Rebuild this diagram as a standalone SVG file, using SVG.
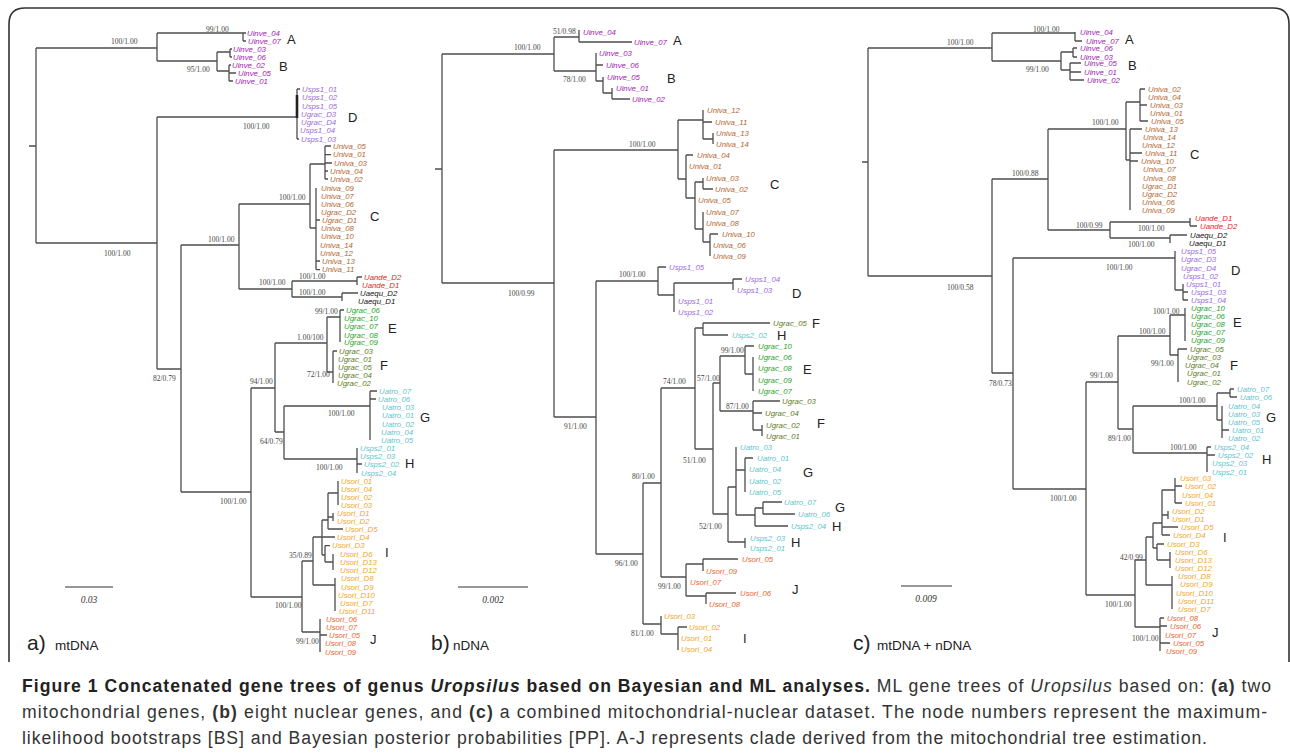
<svg xmlns="http://www.w3.org/2000/svg" width="1290" height="754" viewBox="0 0 1290 754">
<style>
.br{fill:none;stroke:#4d4d4d;stroke-width:1.3}
.fr{fill:none;stroke:#333;stroke-width:1.6}
.sb{fill:none;stroke:#333;stroke-width:1.2}
.t{font-family:"Liberation Sans",Arial,sans-serif;font-size:7.8px;font-style:italic;dominant-baseline:central}
.bl{font-family:"Liberation Serif","Times New Roman",serif;font-size:7.5px;fill:#444;dominant-baseline:central}
.cl{font-family:"Liberation Sans",Arial,sans-serif;font-size:13px;fill:#222;dominant-baseline:central}
.sc{font-family:"Liberation Serif","Times New Roman",serif;font-size:9.5px;font-style:italic;fill:#333;text-anchor:middle;dominant-baseline:central}
.pl{font-family:"Liberation Sans",Arial,sans-serif;font-size:21px;fill:#222}
.pn{font-family:"Liberation Sans",Arial,sans-serif;font-size:13.5px;fill:#222}
.cap{font-family:"Liberation Sans",Arial,sans-serif;font-size:17.6px;fill:#333}
.inv{fill:#a020b0}.sp1{fill:#9b6ae0}.niv{fill:#b3652f}.and{fill:#e42424}.aeq{fill:#111}
.ge{fill:#1fa31f}.gf{fill:#5b7b18}.atr{fill:#5ec4cd}.ori{fill:#f2a61e}.orj{fill:#e9652f}
</style>
<path class="fr" d="M9,662V24Q9,8 25,8H1273Q1289,8 1289,24V662"/>
<g id="connectors">
<path class="br" d="M29,146H36M36,48V243M36,48H157M157,33V61M157,33H243M243,33V41M243,33H246M243,41H246M157,61H217M217,52V71M217,52H230M230,49V57M230,49H232M230,57H232M217,71H229M229,65V81M229,65H231M229,73H236M229,81H233"/>
<path class="br" d="M36,243H157M157,117V369M157,117H297M297,89V139M297,89H300M297,139H299M157,369H181M181,245V492M181,245H239M239,204V289M239,204H310M310,164V228M310,164H325M325,146V179M325,146H331M325,154.6H331M325,163H332M325,171H328M325,179H328M310,228H316M316,188V269.6M316,261H320M316,269.6H320M316,220H320"/>
<path d="M297,95V118" stroke="#222" stroke-width="2.6"/>
<path class="br" d="M239,289H292M292,281V297M292,281H357M357,277V285M357,277H362M292,297H342M342,293V301M342,293H358"/>
<path class="br" d="M181,492H251M251,388V597M251,388H275M275,343V432M275,343H327M327,317V372M327,317H340M340,310V342M340,310H344M327,372H333M333,351V383M333,351H337M275,432H284M284,406V459M284,406H370M370,391V440M370,391H377M370,399H376M284,459H357M357,448V473M357,464H362"/>
<path class="br" d="M251,597H302M302,561V632M302,632H320M320,619V652M320,635H327M302,561H313M313,537V585M313,585H335M335,578V611M313,537H322M322,520V555M322,520H328M328,493V529M328,493H338M338,481V505M328,517H333M333,513V521M328,529H343M322,537H335M322,555H325M325,545.6V562M325,545.6H330M325,562H333M333,554V570"/>
<path class="br" d="M435,169H442M442,54V283M442,54H554M554,37V71M554,37H579M579,30V42M579,42H632M554,71H596M596,53V81M596,65H603M596,81H603M603,77V93M603,93H612M612,88V99M612,99H630"/>
<path class="br" d="M442,283H554M554,150V417M554,150H678M678,120V179M678,120H703M703,110V139M703,122H712M703,139H713M713,133V144M678,179H686M686,155V198M686,155H693M686,198H695M695,182V229M695,182H703M703,178V189M703,189H713M695,229H703M703,212V242M703,242H710M710,234V256M710,234H718"/>
<path class="br" d="M554,417H596M596,281V554M596,281H658M658,267V295M658,267H666M658,295H674M674,283V312M674,283H733M733,279V290M733,279H742"/>
<path class="br" d="M596,554H643M643,483V624M643,483H661M661,388V577M661,388H695M695,328V449M695,328H703M703,323V335M703,323H770M703,335H728M695,449H713M713,383V514M713,383H720M720,356V411M720,356H745M745,346V374M745,346H754M745,374H753M753,357V391M720,411H753M753,401V430M753,401H780M753,413H762M753,430H762M762,425V436"/>
<path class="br" d="M713,514H728M728,487V542M728,487H736M736,447V515M736,470H745M745,458V492M745,458H753M736,515H755M755,508V526M755,508H763M763,502V514M763,502H782M763,514H795M755,526H788M728,542H745M745,538V548"/>
<path class="br" d="M661,577H686M686,564V596M686,564H703M703,559V571M703,559H738M686,596H706M706,593V604M706,593H736M643,624H661M661,616V634M661,634H678M678,627V650M678,627H687"/>
<path class="br" d="M862,162H868M868,48V276M868,48H992M992,33V61M992,33H1075M1075,32V41M1075,41H1082M992,61H1061M1061,52V70M1061,52H1073M1073,48V57M1073,48H1077M1073,57H1077M1061,70H1070M1070,63V80M1070,63H1081M1070,72H1081M1070,80H1084"/>
<path class="br" d="M868,276H992M992,179V373M992,179H1048M1048,129V230M1048,129H1126M1126,102V160M1126,102H1140M1140,89V121M1140,89H1145M1140,105H1147M1140,121H1148M1126,160H1130M1130,129V210M1130,129H1142M1130,153H1142M1130,161H1138"/>
<path class="br" d="M1048,230H1110M1110,222V238M1110,222H1190M1190,218V226M1190,226H1197M1110,238H1170M1170,235V243M1170,235H1187"/>
<path class="br" d="M992,373H1013M1013,258V489M1013,258H1175M1175,251V290M1175,290H1183M1183,284V300M1183,292H1188M1183,300H1188"/>
<path class="br" d="M1013,489H1086M1086,382V595M1086,382H1118M1118,336V429M1118,336H1170M1170,315V355M1170,315H1185M1185,308V341M1170,355H1178M1178,349V382M1178,349H1187"/>
<path class="br" d="M1118,429H1133M1133,406V453M1133,406H1217M1217,393V420M1217,393H1230M1230,389V397M1230,389H1234M1230,397H1237M1217,420H1222M1222,406V438M1222,430H1229M1133,453H1207M1207,447V472M1207,447H1211M1207,455H1215"/>
<path class="br" d="M1086,595H1135M1135,560V627M1135,627H1160M1160,618V651M1160,618H1164M1160,626H1167M1160,643H1170M1135,560H1146M1146,537V585M1146,585H1172M1172,576V609M1146,537H1153M1153,523V548M1153,523H1162M1162,490V535M1162,490H1175M1175,478V503M1175,486H1182M1175,503H1182M1162,515H1168M1168,511V519M1162,527H1178M1162,535H1170M1153,548H1157M1157,544V560M1157,544H1164M1157,560H1170M1170,552V568"/>
</g>
<g id="branch-labels-a">
<text class="bl" x="111" y="41">100/1.00</text><text class="bl" x="206" y="29">99/1.00</text><text class="bl" x="187" y="69">95/1.00</text>
<text class="bl" x="243" y="126">100/1.00</text><text class="bl" x="104" y="253">100/1.00</text><text class="bl" x="208" y="239">100/1.00</text>
<text class="bl" x="279" y="197">100/1.00</text><text class="bl" x="259" y="282">100/1.00</text><text class="bl" x="299" y="276">100/1.00</text>
<text class="bl" x="299" y="292">100/1.00</text><text class="bl" x="315" y="311">99/1.00</text><text class="bl" x="297" y="337">1.00/100</text>
<text class="bl" x="307" y="374">72/1.00</text><text class="bl" x="153" y="378">82/0.79</text><text class="bl" x="250" y="381">94/1.00</text>
<text class="bl" x="328" y="413">100/1.00</text><text class="bl" x="260" y="441">64/0.79</text><text class="bl" x="316" y="467">100/1.00</text>
<text class="bl" x="220" y="501">100/1.00</text><text class="bl" x="289" y="555">35/0.89</text><text class="bl" x="275" y="605">100/1.00</text>
<text class="bl" x="296" y="641">99/1.00</text>
</g>
<g id="branch-labels-b">
<text class="bl" x="514" y="47">100/1.00</text><text class="bl" x="553" y="31">51/0.98</text><text class="bl" x="563" y="79">78/1.00</text>
<text class="bl" x="629" y="144">100/1.00</text><text class="bl" x="508" y="293">100/0.99</text><text class="bl" x="564" y="426">91/1.00</text>
<text class="bl" x="619" y="274">100/1.00</text><text class="bl" x="615" y="563">96/1.00</text><text class="bl" x="632" y="476">80/1.00</text>
<text class="bl" x="663" y="381">74/1.00</text><text class="bl" x="683" y="460">51/1.00</text><text class="bl" x="697" y="378">57/1.00</text>
<text class="bl" x="721" y="350">99/1.00</text><text class="bl" x="726" y="406">87/1.00</text><text class="bl" x="699" y="526">52/1.00</text>
<text class="bl" x="658" y="586">99/1.00</text><text class="bl" x="631" y="633">81/1.00</text>
</g>
<g id="branch-labels-c">
<text class="bl" x="947" y="42">100/1.00</text><text class="bl" x="1033" y="29">100/1.00</text><text class="bl" x="1026" y="69">99/1.00</text>
<text class="bl" x="1092" y="122">100/1.00</text><text class="bl" x="1012" y="173">100/0.88</text><text class="bl" x="1076" y="225">100/0.99</text>
<text class="bl" x="1138" y="228">100/1.00</text><text class="bl" x="1128" y="244">100/1.00</text><text class="bl" x="947" y="287">100/0.58</text>
<text class="bl" x="1106" y="267">100/1.00</text><text class="bl" x="1153" y="311">100/1.00</text><text class="bl" x="1139" y="331">100/1.00</text>
<text class="bl" x="1151" y="363">99/1.00</text><text class="bl" x="989" y="383">78/0.73</text><text class="bl" x="1090" y="375">99/1.00</text>
<text class="bl" x="1179" y="400">100/1.00</text><text class="bl" x="1108" y="438">89/1.00</text><text class="bl" x="1170" y="447">100/1.00</text>
<text class="bl" x="1050" y="498">100/1.00</text><text class="bl" x="1120" y="557">42/0.99</text><text class="bl" x="1105" y="604">100/1.00</text>
<text class="bl" x="1132" y="638">100/1.00</text>
</g>
<g id="a-A"><text class="t inv" x="247" y="33">Uinve_04</text><text class="t inv" x="248" y="41">Uinve_07</text><text class="cl" x="287" y="39">A</text></g>
<g id="a-B"><text class="t inv" x="233" y="49">Uinve_03</text><text class="t inv" x="233" y="57">Uinve_06</text><text class="t inv" x="232" y="65">Uinve_02</text><text class="t inv" x="238" y="73">Uinve_05</text><text class="t inv" x="235" y="81">Uinve_01</text><text class="cl" x="279" y="66">B</text></g>
<g id="a-D"><text class="t sp1" x="302" y="89">Usps1_01</text><text class="t sp1" x="302" y="97.5">Usps1_02</text><text class="t sp1" x="302" y="106">Usps1_05</text><text class="t sp1" x="301" y="114">Ugrac_D3</text><text class="t sp1" x="301" y="122">Ugrac_D4</text><text class="t sp1" x="300" y="130.5">Usps1_04</text><text class="t sp1" x="301" y="139">Usps1_03</text><text class="cl" x="348" y="117">D</text></g>
<g id="a-C"><text class="t niv" x="333" y="146">Univa_05</text><text class="t niv" x="333" y="154.6">Univa_01</text><text class="t niv" x="334" y="163">Univa_03</text><text class="t niv" x="330" y="171">Univa_04</text><text class="t niv" x="330" y="179">Univa_02</text><text class="t niv" x="321" y="188">Univa_09</text><text class="t niv" x="321" y="196">Univa_07</text><text class="t niv" x="321" y="204">Univa_06</text><text class="t niv" x="321" y="212">Ugrac_D2</text><text class="t niv" x="322" y="220">Ugrac_D1</text><text class="t niv" x="321" y="228">Univa_08</text><text class="t niv" x="321" y="236">Univa_10</text><text class="t niv" x="320" y="245">Univa_14</text><text class="t niv" x="320" y="253">Univa_12</text><text class="t niv" x="322" y="261">Univa_13</text><text class="t niv" x="322" y="269.6">Univa_11</text><text class="cl" x="370" y="216">C</text></g>
<g id="a-Uande"><text class="t and" x="364" y="277">Uande_D2</text><text class="t and" x="362" y="285">Uande_D1</text></g>
<g id="a-Uaequ"><text class="t aeq" x="360" y="293">Uaequ_D2</text><text class="t aeq" x="358" y="301">Uaequ_D1</text></g>
<g id="a-E"><text class="t ge" x="346" y="310">Ugrac_06</text><text class="t ge" x="344" y="318.6">Ugrac_10</text><text class="t ge" x="344" y="326.6">Ugrac_07</text><text class="t ge" x="344" y="335">Ugrac_08</text><text class="t ge" x="344" y="342">Ugrac_09</text><text class="cl" x="388" y="328">E</text></g>
<g id="a-F"><text class="t gf" x="339" y="351">Ugrac_03</text><text class="t gf" x="338" y="359">Ugrac_01</text><text class="t gf" x="338" y="367">Ugrac_05</text><text class="t gf" x="338" y="375">Ugrac_04</text><text class="t gf" x="337" y="383">Ugrac_02</text><text class="cl" x="380" y="365">F</text></g>
<g id="a-G"><text class="t atr" x="379" y="391">Uatro_07</text><text class="t atr" x="378" y="399">Uatro_06</text><text class="t atr" x="382" y="407">Uatro_03</text><text class="t atr" x="382" y="415">Uatro_01</text><text class="t atr" x="382" y="424">Uatro_02</text><text class="t atr" x="381" y="432">Uatro_04</text><text class="t atr" x="381" y="440">Uatro_05</text><text class="cl" x="420" y="417">G</text></g>
<g id="a-H"><text class="t atr" x="360" y="448">Usps2_01</text><text class="t atr" x="360" y="456">Usps2_03</text><text class="t atr" x="364" y="464">Usps2_02</text><text class="t atr" x="361" y="473">Usps2_04</text><text class="cl" x="405" y="463">H</text></g>
<g id="a-I"><text class="t ori" x="341" y="481">Usori_01</text><text class="t ori" x="341" y="489">Usori_04</text><text class="t ori" x="341" y="497.6">Usori_02</text><text class="t ori" x="341" y="505">Usori_03</text><text class="t ori" x="337" y="513">Usori_D1</text><text class="t ori" x="337" y="521">Usori_D2</text><text class="t ori" x="345" y="529">Usori_D5</text><text class="t ori" x="337" y="537">Usori_D4</text><text class="t ori" x="332" y="545.6">Usori_D3</text><text class="t ori" x="340" y="554">Usori_D6</text><text class="t ori" x="340" y="562">Usori_D13</text><text class="t ori" x="340" y="570">Usori_D12</text><text class="t ori" x="341" y="578">Usori_D8</text><text class="t ori" x="341" y="587">Usori_D9</text><text class="t ori" x="338" y="595">Usori_D10</text><text class="t ori" x="340" y="603">Usori_D7</text><text class="t ori" x="339" y="611">Usori_D11</text><text class="cl" x="385" y="552">I</text></g>
<g id="a-J"><text class="t orj" x="326" y="619">Usori_06</text><text class="t orj" x="326" y="627">Usori_07</text><text class="t orj" x="329" y="635">Usori_05</text><text class="t orj" x="325" y="643">Usori_08</text><text class="t orj" x="325" y="652">Usori_09</text><text class="cl" x="370" y="639">J</text></g>
<g id="b-A"><text class="t inv" x="583" y="32">Uinve_04</text><text class="t inv" x="634" y="42">Uinve_07</text><text class="cl" x="673" y="40">A</text></g>
<g id="b-B"><text class="t inv" x="599" y="53">Uinve_03</text><text class="t inv" x="606" y="65">Uinve_06</text><text class="t inv" x="607" y="77">Uinve_05</text><text class="t inv" x="616" y="88">Uinve_01</text><text class="t inv" x="632" y="99">Uinve_02</text><text class="cl" x="667" y="78">B</text></g>
<g id="b-C"><text class="t niv" x="707" y="110">Univa_12</text><text class="t niv" x="715" y="122">Univa_11</text><text class="t niv" x="716" y="133">Univa_13</text><text class="t niv" x="716" y="144">Univa_14</text><text class="t niv" x="697" y="155">Univa_04</text><text class="t niv" x="689" y="166">Univa_01</text><text class="t niv" x="706" y="178">Univa_03</text><text class="t niv" x="715" y="189">Univa_02</text><text class="t niv" x="698" y="200">Univa_05</text><text class="t niv" x="706" y="212">Univa_07</text><text class="t niv" x="706" y="223">Univa_08</text><text class="t niv" x="722" y="234">Univa_10</text><text class="t niv" x="713" y="245">Univa_06</text><text class="t niv" x="713" y="256">Univa_09</text><text class="cl" x="770" y="184">C</text></g>
<g id="b-D"><text class="t sp1" x="669" y="267">Usps1_05</text><text class="t sp1" x="745" y="279">Usps1_04</text><text class="t sp1" x="737" y="290">Usps1_03</text><text class="t sp1" x="678" y="301">Usps1_01</text><text class="t sp1" x="678" y="312">Usps1_02</text><text class="cl" x="792" y="293">D</text></g>
<g id="b-F1"><text class="t gf" x="773" y="323">Ugrac_05</text><text class="cl" x="812" y="323">F</text></g>
<g id="b-H1"><text class="t atr" x="732" y="335">Usps2_02</text><text class="cl" x="777" y="335">H</text></g>
<g id="b-E"><text class="t ge" x="758" y="346">Ugrac_10</text><text class="t ge" x="758" y="357">Ugrac_06</text><text class="t ge" x="758" y="368">Ugrac_08</text><text class="t ge" x="758" y="380">Ugrac_09</text><text class="t ge" x="758" y="391">Ugrac_07</text><text class="cl" x="803" y="369">E</text></g>
<g id="b-F2"><text class="t gf" x="782" y="401">Ugrac_03</text><text class="t gf" x="765" y="413">Ugrac_04</text><text class="t gf" x="766" y="425">Ugrac_02</text><text class="t gf" x="766" y="436">Ugrac_01</text><text class="cl" x="817" y="423">F</text></g>
<g id="b-G1"><text class="t atr" x="740" y="447">Uatro_03</text><text class="t atr" x="757" y="458">Uatro_01</text><text class="t atr" x="749" y="469">Uatro_04</text><text class="t atr" x="749" y="481">Uatro_02</text><text class="t atr" x="749" y="492">Uatro_05</text><text class="cl" x="803" y="472">G</text></g>
<g id="b-G2"><text class="t atr" x="784" y="502">Uatro_07</text><text class="t atr" x="798" y="514">Uatro_06</text><text class="cl" x="835" y="507">G</text></g>
<g id="b-H2"><text class="t atr" x="791" y="526">Usps2_04</text><text class="cl" x="832" y="526">H</text></g>
<g id="b-H3"><text class="t atr" x="750" y="538">Usps2_03</text><text class="t atr" x="750" y="548">Usps2_01</text><text class="cl" x="791" y="542">H</text></g>
<g id="b-J"><text class="t orj" x="742" y="559">Usori_05</text><text class="t orj" x="706" y="571">Usori_09</text><text class="t orj" x="690" y="582">Usori_07</text><text class="t orj" x="740" y="593">Usori_06</text><text class="t orj" x="709" y="604">Usori_08</text><text class="cl" x="792" y="589">J</text></g>
<g id="b-I"><text class="t ori" x="664" y="616">Usori_03</text><text class="t ori" x="689" y="627">Usori_02</text><text class="t ori" x="681" y="638">Usori_01</text><text class="t ori" x="681" y="649">Usori_04</text><text class="cl" x="743" y="638">I</text></g>
<g id="c-A"><text class="t inv" x="1080" y="32">Uinve_04</text><text class="t inv" x="1086" y="41">Uinve_07</text><text class="cl" x="1125" y="39">A</text></g>
<g id="c-B"><text class="t inv" x="1080" y="48">Uinve_06</text><text class="t inv" x="1080" y="57">Uinve_03</text><text class="t inv" x="1084" y="63.5">Uinve_05</text><text class="t inv" x="1084" y="72">Uinve_01</text><text class="t inv" x="1087" y="80">Uinve_02</text><text class="cl" x="1128" y="65">B</text></g>
<g id="c-C"><text class="t niv" x="1148" y="89">Univa_02</text><text class="t niv" x="1148" y="97">Univa_04</text><text class="t niv" x="1150" y="105">Univa_03</text><text class="t niv" x="1150" y="113">Univa_01</text><text class="t niv" x="1151" y="121">Univa_05</text><text class="t niv" x="1145" y="129">Univa_13</text><text class="t niv" x="1143" y="137">Univa_14</text><text class="t niv" x="1142" y="145">Univa_12</text><text class="t niv" x="1145" y="153">Univa_11</text><text class="t niv" x="1141" y="161">Univa_10</text><text class="t niv" x="1143" y="169.6">Univa_07</text><text class="t niv" x="1143" y="178">Univa_08</text><text class="t niv" x="1142" y="186">Ugrac_D1</text><text class="t niv" x="1142" y="194">Ugrac_D2</text><text class="t niv" x="1142" y="202">Univa_06</text><text class="t niv" x="1142" y="210">Univa_09</text><text class="cl" x="1190" y="154">C</text></g>
<g id="c-Uande"><text class="t and" x="1195" y="218">Uande_D1</text><text class="t and" x="1200" y="226">Uande_D2</text></g>
<g id="c-Uaequ"><text class="t aeq" x="1190" y="235">Uaequ_D2</text><text class="t aeq" x="1189" y="243">Uaequ_D1</text></g>
<g id="c-D"><text class="t sp1" x="1181" y="251">Usps1_05</text><text class="t sp1" x="1181" y="259">Ugrac_D3</text><text class="t sp1" x="1181" y="268">Ugrac_D4</text><text class="t sp1" x="1183" y="276">Usps1_02</text><text class="t sp1" x="1186" y="284">Usps1_01</text><text class="t sp1" x="1191" y="292">Usps1_03</text><text class="t sp1" x="1191" y="300">Usps1_04</text><text class="cl" x="1231" y="270">D</text></g>
<g id="c-E"><text class="t ge" x="1191" y="308">Ugrac_10</text><text class="t ge" x="1191" y="316.6">Ugrac_06</text><text class="t ge" x="1191" y="324.6">Ugrac_08</text><text class="t ge" x="1191" y="332.6">Ugrac_07</text><text class="t ge" x="1191" y="340.6">Ugrac_09</text><text class="cl" x="1233" y="322">E</text></g>
<g id="c-F"><text class="t gf" x="1190" y="349">Ugrac_05</text><text class="t gf" x="1187" y="357">Ugrac_03</text><text class="t gf" x="1185" y="365">Ugrac_04</text><text class="t gf" x="1187" y="373">Ugrac_01</text><text class="t gf" x="1187" y="382">Ugrac_02</text><text class="cl" x="1230" y="365">F</text></g>
<g id="c-G"><text class="t atr" x="1237" y="389">Uatro_07</text><text class="t atr" x="1240" y="397">Uatro_06</text><text class="t atr" x="1228" y="406">Uatro_04</text><text class="t atr" x="1228" y="414">Uatro_03</text><text class="t atr" x="1228" y="422">Uatro_05</text><text class="t atr" x="1232" y="430">Uatro_01</text><text class="t atr" x="1228" y="438">Uatro_02</text><text class="cl" x="1266" y="417">G</text></g>
<g id="c-H"><text class="t atr" x="1214" y="447">Usps2_04</text><text class="t atr" x="1218" y="455">Usps2_02</text><text class="t atr" x="1212" y="463">Usps2_03</text><text class="t atr" x="1212" y="472">Usps2_01</text><text class="cl" x="1262" y="459">H</text></g>
<g id="c-I"><text class="t ori" x="1180" y="478">Usori_03</text><text class="t ori" x="1185" y="486">Usori_02</text><text class="t ori" x="1182" y="495">Usori_04</text><text class="t ori" x="1185" y="503">Usori_01</text><text class="t ori" x="1172" y="511">Usori_D2</text><text class="t ori" x="1172" y="519">Usori_D1</text><text class="t ori" x="1181" y="527">Usori_D5</text><text class="t ori" x="1173" y="535">Usori_D4</text><text class="t ori" x="1167" y="544">Usori_D3</text><text class="t ori" x="1175" y="552">Usori_D6</text><text class="t ori" x="1175" y="560">Usori_D13</text><text class="t ori" x="1175" y="568">Usori_D12</text><text class="t ori" x="1178" y="576">Usori_D8</text><text class="t ori" x="1180" y="584">Usori_D9</text><text class="t ori" x="1176" y="593">Usori_D10</text><text class="t ori" x="1178" y="601">Usori_D11</text><text class="t ori" x="1178" y="609">Usori_D7</text><text class="cl" x="1223" y="537">I</text></g>
<g id="c-J"><text class="t orj" x="1167" y="618">Usori_08</text><text class="t orj" x="1170" y="626">Usori_06</text><text class="t orj" x="1165" y="635">Usori_07</text><text class="t orj" x="1173" y="643">Usori_05</text><text class="t orj" x="1166" y="651">Usori_09</text><text class="cl" x="1212" y="632">J</text></g>
<g id="scale-bars">
<path class="sb" d="M65,587H113M458,587H528M901,586H952"/>
<text class="sc" x="89" y="600">0.03</text><text class="sc" x="493" y="600">0.002</text><text class="sc" x="926" y="599">0.009</text>
</g>
<g id="panel-labels">
<text class="pl" x="27" y="650">a)</text><text class="pn" x="55" y="650">mtDNA</text>
<text class="pl" x="431" y="650">b)</text><text class="pn" x="453" y="650">nDNA</text>
<text class="pl" x="853" y="650">c)</text><text class="pn" x="877" y="650">mtDNA + nDNA</text>
</g>
<g id="caption">
<text class="cap" x="22" y="692" textLength="1249" lengthAdjust="spacing"><tspan font-weight="bold" fill="#222">Figure 1 Concatenated gene trees of genus <tspan font-style="italic">Uropsilus</tspan> based on Bayesian and ML analyses.</tspan> ML gene trees of <tspan font-style="italic">Uropsilus</tspan> based on: <tspan font-weight="bold">(a)</tspan> two</text>
<text class="cap" x="22" y="718" textLength="1245" lengthAdjust="spacing">mitochondrial genes, <tspan font-weight="bold">(b)</tspan> eight nuclear genes, and <tspan font-weight="bold">(c)</tspan> a combined mitochondrial-nuclear dataset. The node numbers represent the maximum-</text>
<text class="cap" x="22" y="744" textLength="1185" lengthAdjust="spacing">likelihood bootstraps [BS] and Bayesian posterior probabilities [PP]. A-J represents clade derived from the mitochondrial tree estimation.</text>
</g>
</svg>
